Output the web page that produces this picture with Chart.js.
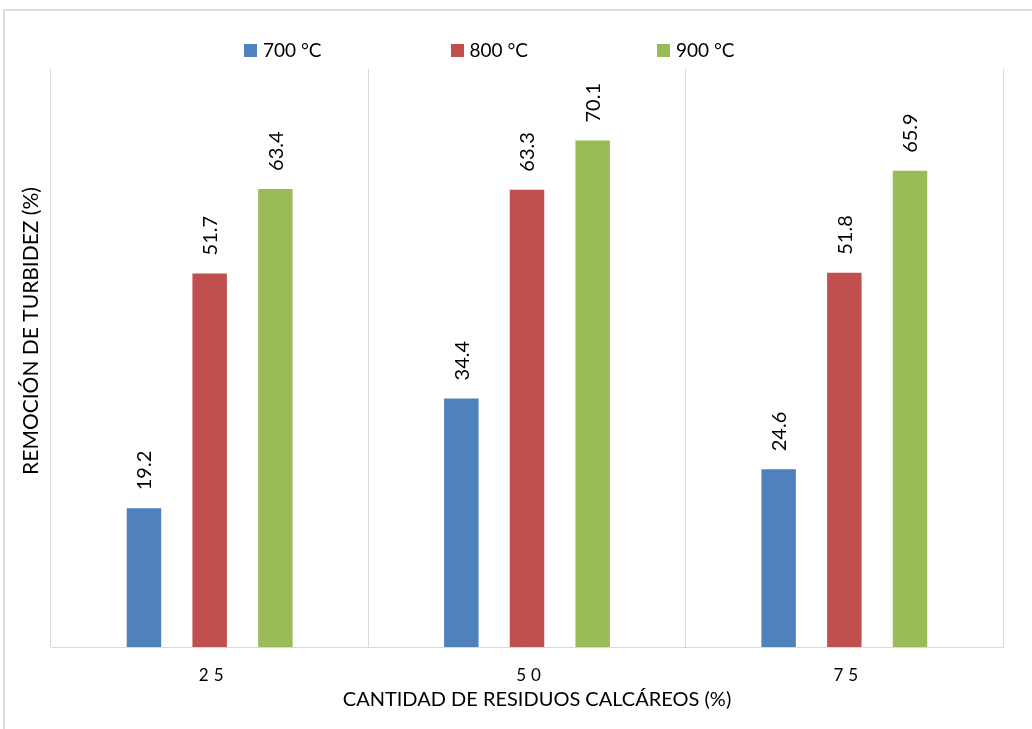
<!DOCTYPE html>
<html>
<head>
<meta charset="utf-8">
<script src="https://cdn.jsdelivr.net/npm/chart.js@4.4.1/dist/chart.umd.min.js"></script>
<style>
  html, body { margin: 0; padding: 0; background: #ffffff; }
  #wrap { width: 1032px; height: 729px; position: relative; }
</style>
</head>
<body>
<div id="wrap"><canvas id="c"></canvas></div>
<script>
// Turbidity removal by limestone residue amount and calcination temperature
const categories = ['25', '50', '75'];
const seriesNames = ['700 °C', '800 °C', '900 °C'];
const s700 = [19.2, 34.4, 24.6];
const s800 = [51.7, 63.3, 51.8];
const s900 = [63.4, 70.1, 65.9];
const seriesColors = ['#4F81BD', '#C0504D', '#9BBB59'];
const xTitle = 'CANTIDAD DE RESIDUOS CALCÁREOS (%)';
const yTitle = 'REMOCIÓN DE TURBIDEZ (%)';
const yMin = 0;
const yMax = 80;

const FONT = 'Lato, "Open Sans", "Liberation Sans", Arial, sans-serif';
const GRID = '#d9d9d9';

// Light frame around the whole chart (open on the right and bottom);
// also widens letter spacing for the category tick labels drawn next
const framePlugin = {
  id: 'frame',
  beforeDraw(chart) {
    const ctx = chart.ctx;
    ctx.save();
    ctx.strokeStyle = '#dcdcdc';
    ctx.lineWidth = 2;
    ctx.beginPath();
    ctx.moveTo(4, chart.height + 5);
    ctx.lineTo(4, 10);
    ctx.lineTo(chart.width + 5, 10);
    ctx.stroke();
    ctx.restore();
    ctx.letterSpacing = '5px';
  },
  beforeDatasetsDraw(chart) {
    chart.ctx.letterSpacing = '0px';
  }
};

// Rotated value labels above each bar
const valueLabels = {
  id: 'valueLabels',
  afterDatasetsDraw(chart) {
    const ctx = chart.ctx;
    ctx.save();
    ctx.font = '20px ' + FONT;
    ctx.fillStyle = '#000000';
    ctx.textAlign = 'left';
    ctx.textBaseline = 'middle';
    chart.data.datasets.forEach((ds, di) => {
      const meta = chart.getDatasetMeta(di);
      meta.data.forEach((bar, i) => {
        ctx.save();
        ctx.translate(bar.x + 1, bar.y - 18);
        ctx.rotate(-Math.PI / 2);
        ctx.fillText(ds.data[i].toFixed(1), 0, 0);
        ctx.restore();
      });
    });
    ctx.restore();
  }
};

// Legend row across the top and both axis titles
const legendAndTitles = {
  id: 'legendAndTitles',
  afterDraw(chart) {
    const ctx = chart.ctx;
    const area = chart.chartArea;
    ctx.save();
    ctx.letterSpacing = '0px';
    ctx.font = '19px ' + FONT;
    ctx.textBaseline = 'middle';
    ctx.textAlign = 'left';
    const box = 13, gap = 6, step = 206.5;
    let x = area.left + 193;
    const y = 50;
    chart.data.datasets.forEach((ds) => {
      ctx.fillStyle = ds.backgroundColor;
      ctx.fillRect(Math.round(x), y - 6, box, box);
      ctx.fillStyle = '#000000';
      ctx.fillText(ds.label, x + box + gap, y + 1);
      x += step;
    });

    // horizontal axis title
    ctx.font = '20px ' + FONT;
    ctx.textAlign = 'center';
    ctx.fillText(xTitle, (area.left + area.right) / 2 + 10, area.bottom + 53);

    // vertical axis title
    ctx.font = '21px ' + FONT;
    ctx.translate(31, 331);
    ctx.rotate(-Math.PI / 2);
    ctx.fillText(yTitle, 0, 0);
    ctx.restore();
  }
};

const chart = new Chart(document.getElementById('c'), {
  type: 'bar',
  data: {
    labels: categories,
    datasets: [
      { label: seriesNames[0], data: s700, backgroundColor: seriesColors[0] },
      { label: seriesNames[1], data: s800, backgroundColor: seriesColors[1] },
      { label: seriesNames[2], data: s900, backgroundColor: seriesColors[2] }
    ]
  },
  options: {
    responsive: true,
    maintainAspectRatio: false,
    animation: false,
    devicePixelRatio: 1,
    layout: { padding: { top: 69, right: 29, left: 0, bottom: 0 } },
    datasets: { bar: { categoryPercentage: 0.621, barPercentage: 0.525 } },
    plugins: { legend: { display: false }, tooltip: { enabled: false } },
    scales: {
      x: {
        grid: { color: GRID, lineWidth: 1, drawTicks: false, offset: true },
        border: { display: true, color: GRID, width: 1 },
        ticks: { color: '#000000', font: { family: FONT, size: 17 }, padding: 18, labelOffset: 4 },
        title: { display: false, text: xTitle },
        afterFit(scale) { scale.height = 82; }
      },
      y: {
        min: yMin, max: yMax,
        ticks: { display: false },
        grid: { display: false, drawTicks: false },
        border: { display: false },
        afterFit(scale) { scale.width = 51; }
      }
    }
  },
  plugins: [framePlugin, valueLabels, legendAndTitles]
});
</script>
</body>
</html>
